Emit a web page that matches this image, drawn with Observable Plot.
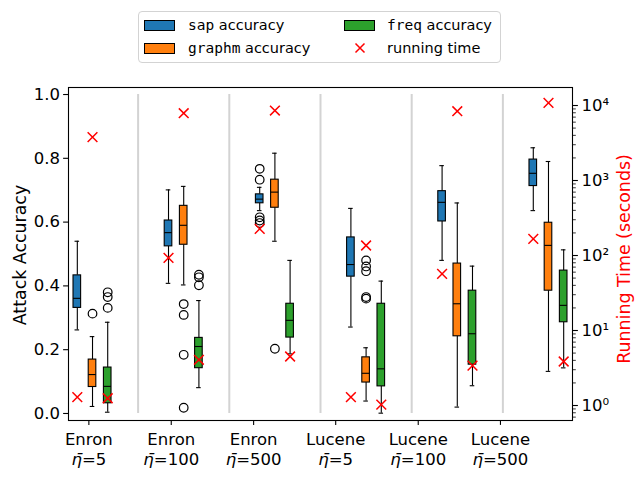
<!DOCTYPE html>
<html><head><meta charset="utf-8">
<script src="https://cdn.jsdelivr.net/npm/d3@7"></script>
<script src="https://cdn.jsdelivr.net/npm/@observablehq/plot@0.6"></script>
<style>
body{margin:0;background:#fff;font-family:"DejaVu Sans",sans-serif;}
#wrap{position:relative;width:643px;height:481px;overflow:hidden;}
#wrap > svg{position:absolute;left:0;top:0;}
#legend{position:absolute;left:138px;top:11px;width:363px;height:52px;border:1px solid #d3d3d3;border-radius:4px;background:rgba(255,255,255,0.8);box-sizing:border-box;font-size:14.5px;color:#000;}
.patch{position:absolute;width:31px;height:11px;border:1px solid #000;box-sizing:border-box;}
.ltext{position:absolute;white-space:nowrap;line-height:20px;height:20px;}
.mono{font-family:"DejaVu Sans Mono",monospace;}
</style></head><body><div id="wrap"></div>
<script>
// ---- data ----
const groups = ["Enron\nη̄=5", "Enron\nη̄=100", "Enron\nη̄=500", "Lucene\nη̄=5", "Lucene\nη̄=100", "Lucene\nη̄=500"];
const xTickPos = [1.76, 7.18, 12.6, 18.0, 23.43, 28.84];
const methods = ["sap", "graphm", "freq"];
const colors = ["#1f77b4", "#ff7f0e", "#2ca02c"];

const sapLo  = [0.262, 0.408, 0.636, 0.271, 0.480, 0.636];
const sapQ1  = [0.331, 0.524, 0.659, 0.429, 0.602, 0.713];
const sapMed = [0.361, 0.567, 0.672, 0.467, 0.662, 0.753];
const sapQ3  = [0.433, 0.605, 0.687, 0.552, 0.697, 0.796];
const sapHi  = [0.540, 0.701, 0.709, 0.643, 0.777, 0.833];
const sapOut = [[], [], [0.767, 0.733, 0.615, 0.605, 0.597], [], [], []];
const sapTime = [1.29, 93, 227, 1.29, 57, 167];

const graphmLo  = [0.022, 0.403, 0.540, 0.039, 0.020, 0.132];
const graphmQ1  = [0.083, 0.529, 0.645, 0.097, 0.242, 0.385];
const graphmMed = [0.122, 0.590, 0.694, 0.126, 0.344, 0.527];
const graphmQ3  = [0.169, 0.651, 0.733, 0.176, 0.470, 0.598];
const graphmHi  = [0.241, 0.712, 0.816, 0.206, 0.660, 0.790];
const graphmOut = [[0.313], [0.343, 0.309, 0.184, 0.018], [0.203], [0.480, 0.461, 0.446, 0.365, 0.360], [], []];
const graphmTime = [3780, 7890, 8570, 136, 8390, 10860];

const freqLo  = [0.004, 0.081, 0.187, 0.001, 0.087, 0.143];
const freqQ1  = [0.032, 0.142, 0.238, 0.085, 0.153, 0.286];
const freqMed = [0.085, 0.210, 0.292, 0.140, 0.250, 0.339];
const freqQ3  = [0.144, 0.237, 0.344, 0.344, 0.385, 0.448];
const freqHi  = [0.286, 0.354, 0.480, 0.415, 0.462, 0.513];
const freqOut = [[0.380, 0.365, 0.331], [0.435, 0.427, 0.402], [], [], [], []];
const freqTime = [1.25, 4.07, 4.5, 1.03, 3.4, 3.86];

const leftTicks = [0, 0.2, 0.4, 0.6, 0.8, 1.0];
const rightTicks = [1, 10, 100, 1000, 10000];

// ---- build tables ----
const stats = {
  sap: {lo: sapLo, q1: sapQ1, med: sapMed, q3: sapQ3, hi: sapHi, out: sapOut, time: sapTime},
  graphm: {lo: graphmLo, q1: graphmQ1, med: graphmMed, q3: graphmQ3, hi: graphmHi, out: graphmOut, time: graphmTime},
  freq: {lo: freqLo, q1: freqQ1, med: freqMed, q3: freqQ3, hi: freqHi, out: freqOut, time: freqTime}
};
const boxes = [], outliers = [], times = [];
methods.forEach((m, mi) => {
  const s = stats[m];
  groups.forEach((g, gi) => {
    const pos = 6 * gi + 1 + mi;
    boxes.push({pos, color: colors[mi], lo: s.lo[gi], q1: s.q1[gi], med: s.med[gi], q3: s.q3[gi], hi: s.hi[gi]});
    s.out[gi].forEach(v => outliers.push({pos, v}));
    times.push({pos, t: s.time[gi]});
  });
});
const separators = groups.slice(1).map((g, i) => 6 * i + 5);
const tickLabel = new Map(xTickPos.map((p, i) => [p, groups[i]]));
const minorTicks = [];
for (let e = -1; e <= 4; e++) for (let k = 2; k <= 9; k++) {
  const v = k * Math.pow(10, e);
  if (v > 0.631 && v < 17380) minorTicks.push(v);
}
const sup = {"0":"⁰","1":"¹","2":"²","3":"³","4":"⁴","-":"⁻"};

const W = 643, H = 481;
const margins = {marginLeft: 68, marginRight: 71, marginTop: 87, marginBottom: 61};
const xDomain = [0.42, 33.58];
const hw = 0.25, cw = 0.15;

const main = Plot.plot({
  width: W, height: H, ...margins,
  style: {fontFamily: "DejaVu Sans", color: "black", background: "white", overflow: "visible"},
  x: {domain: xDomain},
  y: {domain: [-0.022, 1.022]},
  color: {type: "identity"},
  marks: [
    Plot.ruleX(separators, {x: d => d, y1: 0, y2: 1, stroke: "#d3d3d3", strokeWidth: 2}),
    Plot.ruleX(boxes, {x: "pos", y1: "q3", y2: "hi", stroke: "black", strokeWidth: 1.1}),
    Plot.ruleX(boxes, {x: "pos", y1: "q1", y2: "lo", stroke: "black", strokeWidth: 1.1}),
    Plot.ruleY(boxes, {y: "hi", x1: d => d.pos - cw, x2: d => d.pos + cw, stroke: "black", strokeWidth: 1.1}),
    Plot.ruleY(boxes, {y: "lo", x1: d => d.pos - cw, x2: d => d.pos + cw, stroke: "black", strokeWidth: 1.1}),
    Plot.rect(boxes, {x1: d => d.pos - hw, x2: d => d.pos + hw, y1: "q1", y2: "q3", fill: "color", stroke: "black", strokeWidth: 1.1}),
    Plot.ruleY(boxes, {y: "med", x1: d => d.pos - hw, x2: d => d.pos + hw, stroke: "black", strokeWidth: 1.1}),
    Plot.dot(outliers, {x: "pos", y: "v", r: 4.3, stroke: "black", fill: "none", strokeWidth: 1.2}),
    Plot.frame({stroke: "black", strokeWidth: 1.1}),
    Plot.axisY({ticks: leftTicks, tickFormat: d => d.toFixed(1), tickSize: 4.9, tickPadding: 3.5, fontSize: 16.5, label: null, strokeWidth: 1.1}),
    Plot.axisX({ticks: xTickPos, tickFormat: d => tickLabel.get(d), tickSize: 4.9, tickPadding: 6, fontSize: 16.5, lineHeight: 1.2, label: null, strokeWidth: 1.1})
  ]
});

const over = Plot.plot({
  width: W, height: H, ...margins,
  style: {fontFamily: "DejaVu Sans", color: "black", background: "transparent", overflow: "visible"},
  x: {domain: xDomain, axis: null},
  y: {type: "log", domain: [0.631, 17380]},
  marks: [
    Plot.dot(times, {x: "pos", y: "t", symbol: "times", r: 4.5, stroke: "red", strokeWidth: 1.5}),
    Plot.axisY({anchor: "right", ticks: minorTicks, tickFormat: () => "", tickSize: 2.8, label: null, strokeWidth: 0.8}),
    Plot.axisY({anchor: "right", ticks: rightTicks, tickFormat: d => "10" + String(Math.round(Math.log10(d))).split("").map(c => sup[c]).join(""), tickSize: 4.9, tickPadding: 4, fontSize: 16.5, label: null, strokeWidth: 1.1})
  ]
});

// italic eta
main.querySelectorAll("tspan").forEach(ts => {
  const s = ts.textContent;
  if (s.startsWith("η̄")) {
    ts.textContent = "";
    const it = document.createElementNS("http://www.w3.org/2000/svg", "tspan");
    it.setAttribute("font-style", "italic");
    it.textContent = "η̄";
    ts.appendChild(it);
    ts.appendChild(document.createTextNode(s.slice(2)));
  }
});

// axis titles
const ms = d3.select(main);
ms.append("text").attr("transform", "translate(26,255) rotate(-90)").attr("text-anchor", "middle")
  .attr("font-size", 17.4).attr("fill", "black").text("Attack Accuracy");
const os = d3.select(over);
os.append("text").attr("transform", "translate(630,259) rotate(-90)").attr("text-anchor", "middle")
  .attr("font-size", 17.4).attr("fill", "red").text("Running Time (seconds)");

const wrap = document.getElementById("wrap");
wrap.appendChild(main);
wrap.appendChild(over);

// legend
const legend = document.createElement("div");
legend.id = "legend";
const entries = methods.map((m, i) => ({kind: "patch", color: colors[i], code: m, text: " accuracy"}))
  .concat([{kind: "cross", text: "running time"}]);
const colPatchX = [5, 205], colTextX = [49, 248], rowY = [13, 36];
entries.forEach((e, i) => {
  const col = Math.floor(i / 2), row = i % 2;
  if (e.kind === "patch") {
    const p = document.createElement("div");
    p.className = "patch";
    p.style.left = colPatchX[col] + "px";
    p.style.top = (rowY[row] - 5.5) + "px";
    p.style.background = e.color;
    legend.appendChild(p);
  } else {
    const ns = "http://www.w3.org/2000/svg";
    const s = document.createElementNS(ns, "svg");
    s.setAttribute("width", 12); s.setAttribute("height", 12);
    s.style.position = "absolute";
    s.style.left = (colPatchX[col] + 15.5 - 6) + "px";
    s.style.top = (rowY[row] - 6) + "px";
    s.innerHTML = '<path d="M1.5,1.5L10.5,10.5M1.5,10.5L10.5,1.5" stroke="red" stroke-width="1.5" fill="none"/>';
    legend.appendChild(s);
  }
  const t = document.createElement("div");
  t.className = "ltext";
  t.style.left = colTextX[col] + "px";
  t.style.top = (rowY[row] - 10) + "px";
  if (e.code) {
    const c = document.createElement("span"); c.className = "mono"; c.textContent = e.code;
    t.appendChild(c);
  }
  t.appendChild(document.createTextNode(e.text));
  legend.appendChild(t);
});
wrap.appendChild(legend);
</script></body></html>
